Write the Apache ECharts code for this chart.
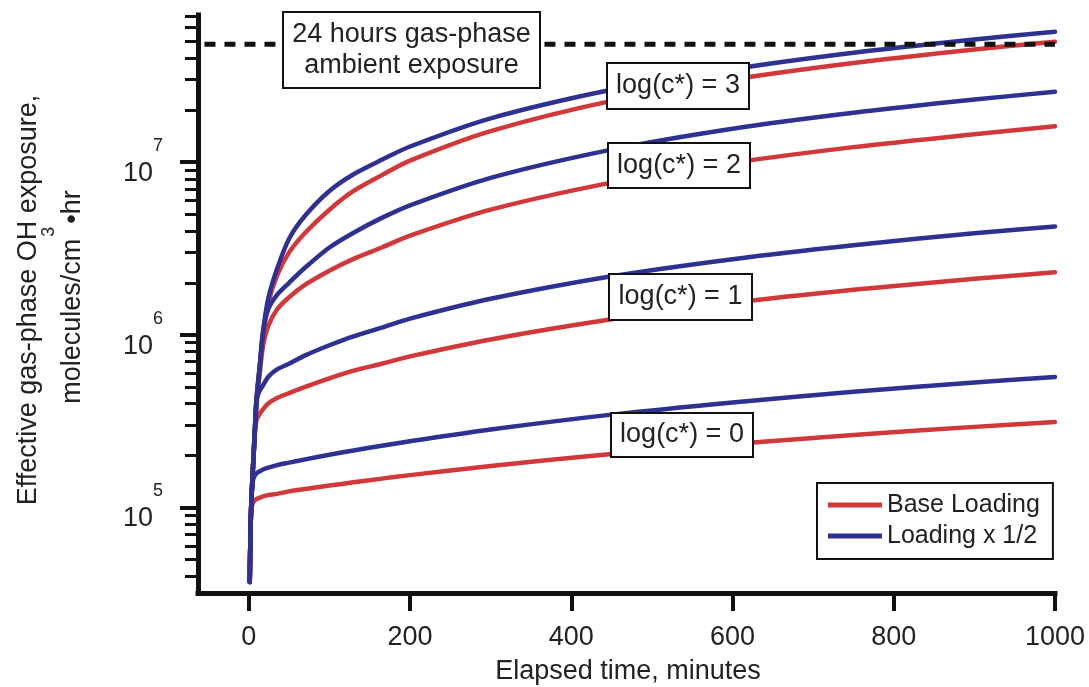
<!DOCTYPE html>
<html>
<head>
<meta charset="utf-8">
<script src="https://cdn.jsdelivr.net/npm/echarts@6/dist/echarts.min.js"></script>
<style>
  html, body { margin: 0; padding: 0; background: #ffffff; }
  #chart { width: 1089px; height: 687px; }
</style>
</head>
<body>
<div id="chart"></div>
<script>
// Elapsed time (minutes) at which each curve is sampled
const times = [1.2, 2.1, 3.3, 5.3, 7.4, 9.6, 13.6, 17.7, 24, 35, 50, 70, 100, 130, 165, 200, 300, 450, 600, 750, 900, 1000];

// Effective gas-phase OH exposure (molecules/cm3·hr), base loading
const base0 = [3.7e4, 7.2e4, 1.0e5, 1.07e5, 1.10e5, 1.12e5, 1.14e5, 1.16e5, 1.18e5, 1.20e5, 1.24e5, 1.28e5, 1.34e5, 1.40e5, 1.47e5, 1.54e5, 1.74e5, 2.04e5, 2.33e5, 2.63e5, 2.93e5, 3.13e5];
const base1 = [3.7e4, 7.2e4, 1.12e5, 1.74e5, 2.73e5, 3.2e5, 3.5e5, 3.7e5, 4.0e5, 4.3e5, 4.6e5, 5.0e5, 5.6e5, 6.2e5, 6.8e5, 7.5e5, 9.4e5, 1.23e6, 1.53e6, 1.82e6, 2.11e6, 2.30e6];
const base2 = [3.7e4, 7.2e4, 1.12e5, 1.74e5, 2.6e5, 3.9e5, 6.0e5, 8.6e5, 1.12e6, 1.4e6, 1.65e6, 1.95e6, 2.35e6, 2.75e6, 3.2e6, 3.75e6, 5.3e6, 7.6e6, 9.9e6, 1.22e7, 1.45e7, 1.61e7];
const base3 = [3.7e4, 7.2e4, 1.12e5, 1.74e5, 2.65e5, 4.1e5, 6.4e5, 1.0e6, 1.52e6, 2.2e6, 3.0e6, 3.9e6, 5.3e6, 6.8e6, 8.4e6, 1.02e7, 1.51e7, 2.26e7, 3.0e7, 3.74e7, 4.48e7, 4.97e7];

// Same quantity with the loading halved
const half0 = [3.7e4, 7.2e4, 1.12e5, 1.45e5, 1.53e5, 1.58e5, 1.62e5, 1.66e5, 1.70e5, 1.76e5, 1.82e5, 1.90e5, 2.02e5, 2.14e5, 2.28e5, 2.42e5, 2.83e5, 3.45e5, 4.06e5, 4.68e5, 5.29e5, 5.70e5];
const half1 = [3.7e4, 7.2e4, 1.12e5, 1.74e5, 2.73e5, 4.2e5, 4.75e5, 5.1e5, 5.7e5, 6.3e5, 6.8e5, 7.6e5, 8.7e5, 9.8e5, 1.1e6, 1.24e6, 1.615e6, 2.18e6, 2.74e6, 3.30e6, 3.87e6, 4.24e6];
const half2 = [3.7e4, 7.2e4, 1.12e5, 1.74e5, 2.73e5, 4.25e5, 6.6e5, 1.04e6, 1.4e6, 1.7e6, 2.0e6, 2.45e6, 3.2e6, 3.9e6, 4.75e6, 5.62e6, 8.1e6, 1.18e7, 1.56e7, 1.93e7, 2.30e7, 2.55e7];
const half3 = [3.7e4, 7.2e4, 1.12e5, 1.74e5, 2.73e5, 4.25e5, 6.6e5, 1.04e6, 1.61e6, 2.4e6, 3.6e6, 4.9e6, 6.8e6, 8.5e6, 1.03e7, 1.23e7, 1.79e7, 2.62e7, 3.45e7, 4.29e7, 5.12e7, 5.68e7];

// 24 h of ambient gas-phase OH exposure (reference level) and its time span
const ambientLevel = 4.8e7;
const ambientSpan = [-55, 1000];

// Axis extents and ticks
const xRange = [-63, 1000];
const xTicks = [0, 200, 400, 600, 800, 1000];
const yRange = [3.2e4, 7.1e7];
const yMajor = [1e5, 1e6, 1e7];
const yMinor = [4e4, 5e4, 6e4, 7e4, 8e4, 9e4,
                2e5, 3e5, 4e5, 5e5, 6e5, 7e5, 8e5, 9e5,
                2e6, 3e6, 4e6, 5e6, 6e6, 7e6, 8e6, 9e6,
                2e7, 3e7, 4e7, 5e7, 6e7, 7e7];

const curveLabels = ['log(c*) = 0', 'log(c*) = 1', 'log(c*) = 2', 'log(c*) = 3'];
const legendNames = ['Base Loading', 'Loading x 1/2'];

const RED = '#d2383a';
const BLUE = '#2e3192';
const INK = '#111111';
const TEXT = '#222222';
const FONT = '"Liberation Sans", Arial, Helvetica, sans-serif';

const lg = Math.log10;

function curve(name, vals, color, z) {
  return {
    type: 'line',
    name: name,
    data: times.map((t, i) => [t, lg(vals[i])]),
    color: color,
    showSymbol: false,
    smooth: 0.3,
    z: z,
    silent: true,
    lineStyle: { width: 4.5, color: color, cap: 'round', join: 'round' }
  };
}

// annotation box with centred text
function box(x, y, w, h, text, lineHeight) {
  return {
    type: 'group',
    children: [
      { type: 'rect', z: 100, shape: { x: x, y: y, width: w, height: h },
        style: { fill: '#ffffff', stroke: INK, lineWidth: 2 } },
      { type: 'text', z: 101, x: x + w / 2, y: y + h / 2,
        style: { text: text, fill: TEXT, font: '27px ' + FONT, align: 'center',
                 verticalAlign: 'middle', lineHeight: lineHeight || 30 } }
    ]
  };
}

const chart = echarts.init(document.getElementById('chart'), null, { renderer: 'canvas' });

chart.setOption({
  animation: false,
  backgroundColor: '#ffffff',
  grid: { left: 198, right: 34, top: 15, bottom: 94 },
  xAxis: {
    type: 'value',
    min: xRange[0], max: xRange[1],
    axisLine: { onZero: false, lineStyle: { color: INK, width: 5, cap: 'square' } },
    axisTick: { customValues: xTicks, length: 18, lineStyle: { color: INK, width: 4 } },
    axisLabel: { customValues: xTicks, fontSize: 27, color: TEXT, fontFamily: FONT, margin: 31,
                 formatter: v => String(v) },
    splitLine: { show: false }
  },
  yAxis: [
    {
      type: 'value',
      position: 'left',
      min: lg(yRange[0]), max: lg(yRange[1]),
      axisLine: { onZero: false, lineStyle: { color: INK, width: 5, cap: 'square' } },
      axisTick: { customValues: yMajor.map(lg), length: 18, lineStyle: { color: INK, width: 4 } },
      axisLabel: {
        customValues: yMajor.map(lg),
        margin: 35,
        formatter: v => '{b|10}{s|' + Math.round(v) + '}',
        rich: {
          b: { fontSize: 27, fontFamily: FONT, color: TEXT, lineHeight: 50, verticalAlign: 'bottom' },
          s: { fontSize: 18, fontFamily: FONT, color: TEXT, lineHeight: 18, verticalAlign: 'top' }
        }
      },
      splitLine: { show: false }
    },
    {
      type: 'value',
      position: 'left',
      offset: 0,
      min: lg(yRange[0]), max: lg(yRange[1]),
      axisLine: { show: false, onZero: false },
      axisTick: { customValues: yMinor.map(lg), length: 13, lineStyle: { color: INK, width: 3 } },
      axisLabel: { show: false },
      splitLine: { show: false }
    }
  ],
  legend: {
    data: legendNames,
    orient: 'vertical',
    left: 817, top: 483,
    backgroundColor: '#ffffff',
    borderColor: INK, borderWidth: 2,
    padding: [8, 13, 9, 11],
    itemGap: 3,
    itemWidth: 54, itemHeight: 5,
    icon: 'rect',
    selectedMode: false,
    textStyle: { fontSize: 25, color: TEXT, fontFamily: FONT, lineHeight: 28 }
  },
  series: [
    curve(legendNames[0], base0, RED, 2),
    curve(legendNames[0], base1, RED, 2),
    curve(legendNames[0], base2, RED, 2),
    curve(legendNames[0], base3, RED, 2),
    curve(legendNames[1], half0, BLUE, 3),
    curve(legendNames[1], half1, BLUE, 3),
    curve(legendNames[1], half2, BLUE, 3),
    curve(legendNames[1], half3, BLUE, 3),
    {
      type: 'line',
      name: 'ambient',
      data: ambientSpan.map(t => [t, lg(ambientLevel)]),
      showSymbol: false,
      silent: true,
      z: 4,
      lineStyle: { color: INK, width: 5, type: [11, 9] }
    }
  ],
  graphic: [
    box(283, 12, 257, 76, '24 hours gas-phase\nambient exposure', 31),
    box(607, 63, 142, 46, curveLabels[3]),
    box(608, 143, 142, 45, curveLabels[2]),
    box(609, 274, 143, 46, curveLabels[1]),
    box(611, 413, 142, 44, curveLabels[0]),
    {
      type: 'text', x: 29, y: 300, rotation: Math.PI / 2, z: 100,
      style: { text: 'Effective gas-phase OH exposure,', fill: TEXT, font: '27px ' + FONT,
               align: 'center', verticalAlign: 'middle' }
    },
    {
      type: 'text', x: 63, y: 297, rotation: Math.PI / 2, z: 100,
      style: {
        text: '{a|molecules/cm}{s|3}{a|•hr}',
        align: 'center', verticalAlign: 'middle',
        rich: {
          a: { fontSize: 27, fontFamily: FONT, fill: TEXT, color: TEXT, lineHeight: 46, verticalAlign: 'bottom' },
          s: { fontSize: 18, fontFamily: FONT, fill: TEXT, color: TEXT, lineHeight: 18, verticalAlign: 'top', padding: [0, 3, 0, 2] }
        }
      }
    },
    {
      type: 'text', x: 628, y: 672, z: 100,
      style: { text: 'Elapsed time, minutes', fill: TEXT, font: '27px ' + FONT,
               align: 'center', verticalAlign: 'middle' }
    }
  ]
});
</script>
</body>
</html>
